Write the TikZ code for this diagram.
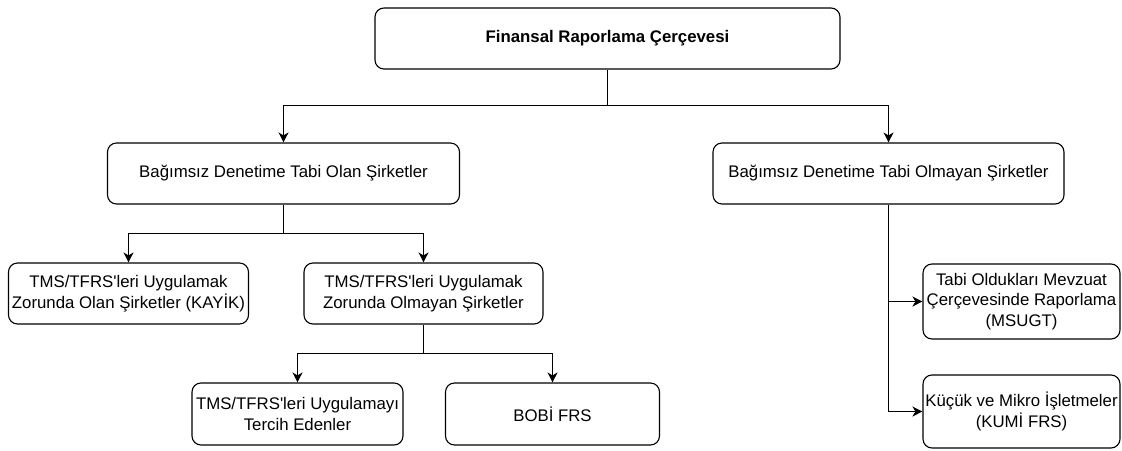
\documentclass[tikz,border=0pt]{standalone}
\usepackage{fontspec}
\setmainfont{Liberation Sans}
\usetikzlibrary{arrows.meta}
\newcommand{\apos}{\textquotesingle}
\begin{document}
\begin{tikzpicture}[x=1pt,y=-1pt,
  box/.style={draw, line width=1.1pt, rounded corners=9pt, inner sep=0pt,
    align=center, font=\fontsize{16.8}{20.5}\selectfont},
  link/.style={line width=1.1pt},
  arr/.style={link, -{Stealth[length=10pt,width=10pt,inset=3pt]}}]
\useasboundingbox (0,0) rectangle (1122,450);

% boxes
\node[box, minimum width=465pt, minimum height=61pt, font=\fontsize{16.8}{20.5}\selectfont\bfseries]
  (top) at (607.5,38.5) {Finansal Raporlama Çerçevesi};
\node[box, minimum width=352pt, minimum height=61pt] (b1) at (283.5,173.5)
  {Bağımsız Denetime Tabi Olan Şirketler};
\node[box, minimum width=351pt, minimum height=61pt] (b2) at (888.5,173.5)
  {Bağımsız Denetime Tabi Olmayan Şirketler};
\node[box, minimum width=240pt, minimum height=61pt] (c1) at (128.5,293.5)
  {TMS/TFRS\apos leri Uygulamak\\Zorunda Olan Şirketler (KAYİK)};
\node[box, minimum width=239pt, minimum height=61pt] (c2) at (423.5,293.5)
  {TMS/TFRS\apos leri Uygulamak\\Zorunda Olmayan Şirketler};
\node[box, minimum width=211pt, minimum height=62pt] (d1) at (297.5,414)
  {TMS/TFRS\apos leri Uygulamayı\\Tercih Edenler};
\node[box, minimum width=214pt, minimum height=62pt] (d2) at (552.5,414)
  {BOBİ FRS};
\node[box, minimum width=197pt, minimum height=75pt] (m1) at (1021.5,301.5)
  {Tabi Oldukları Mevzuat\\Çerçevesinde Raporlama\\(MSUGT)};
\node[box, minimum width=197pt, minimum height=73pt] (m2) at (1021.5,411.5)
  {Küçük ve Mikro İşletmeler\\(KUMİ FRS)};

% junction points of the tree
\coordinate (j0) at (607.5,105.5);
\coordinate (j1) at (283.5,233.5);
\coordinate (j2) at (423.5,353.5);

% connectors
\draw[link] (top.south) -- (j0);
\draw[arr] (j0) -| (b1.north);
\draw[arr] (j0) -| (b2.north);
\draw[link] (b1.south) -- (j1);
\draw[arr] (j1) -| (c1.north);
\draw[arr] (j1) -| (c2.north);
\draw[link] (c2.south) -- (j2);
\draw[arr] (j2) -| (d1.north);
\draw[arr] (j2) -| (d2.north);
\draw[arr] (b2.south) |- (m1.west);
\draw[arr] (b2.south) |- (m2.west);
\end{tikzpicture}
\end{document}
